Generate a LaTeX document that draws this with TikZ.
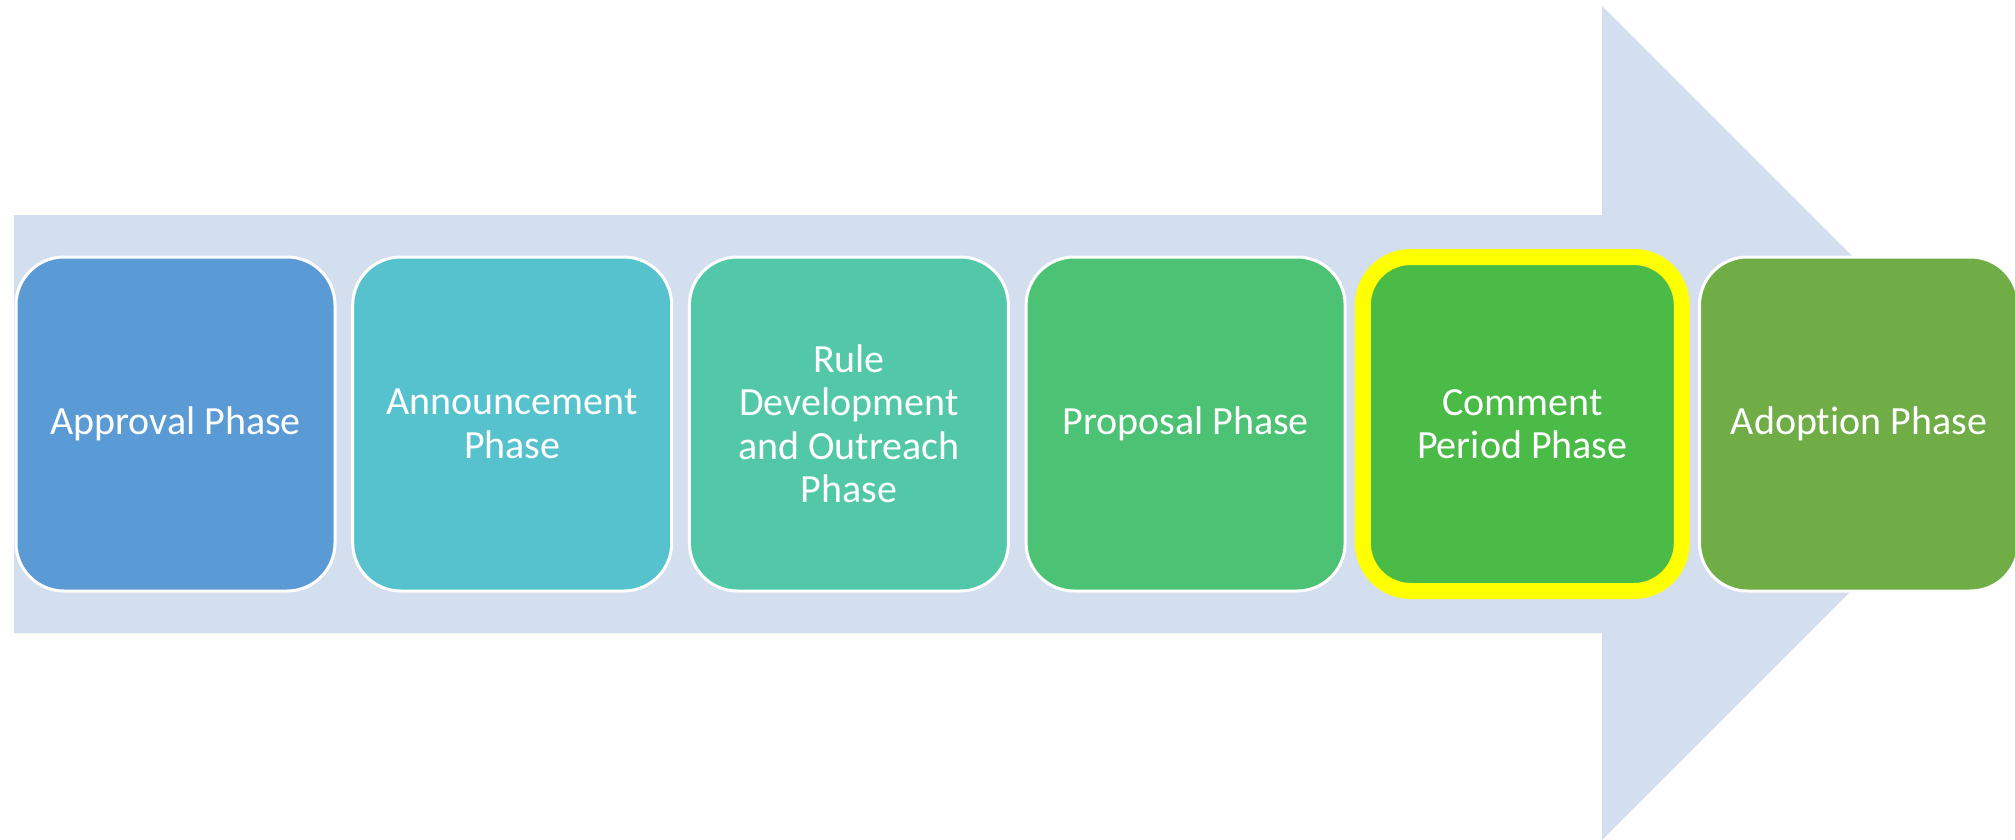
\documentclass[tikz,border=0pt]{standalone}
\usepackage{fontspec}
\setmainfont[Ligatures=NoCommon]{Carlito}
\definecolor{arrowbg}{HTML}{D3DEEF}
\definecolor{cA}{HTML}{5B9BD5}
\definecolor{cB}{HTML}{56C2CE}
\definecolor{cC}{HTML}{52C8A9}
\definecolor{cD}{HTML}{4CC274}
\definecolor{cE}{HTML}{4ABB47}
\definecolor{cF}{HTML}{70AD47}
\definecolor{hilite}{HTML}{FFFF00}
\tikzset{
  phasebox/.style={draw=white, line width=3pt, rounded corners=48pt,
    minimum width=319pt, minimum height=334pt, inner sep=0pt, outer sep=0pt,
    text=white, align=center,
    font=\fontsize{40}{43.5}\selectfont, anchor=north west},
  highlit/.style={draw=hilite, line width=16pt}
}
\begin{document}
\begin{tikzpicture}[x=1pt,y=-1pt]
\useasboundingbox (0,0) rectangle (2015,840);
\clip (0,0) rectangle (2015,840);
\fill[white] (0,0) rectangle (2015,840);
\fill[arrowbg] (14,215) -- (1602,215) -- (1602,6) -- (2019,423) -- (1602,840) -- (1602,633) -- (14,633) -- cycle;
\node[phasebox, fill=cA] (p1) at (16,257) {Approval Phase};
\node[phasebox, fill=cB] (p2) at (352.7,257) {Announcement\\Phase};
\node[phasebox, fill=cC] (p3) at (689.4,257) {Rule\\Development\\and Outreach\\Phase};
\node[phasebox, fill=cD] (p4) at (1026.1,257) {Proposal Phase};
\node[phasebox, fill=cE, highlit] (p5) at (1362.8,257) {Comment\\Period Phase};
\node[phasebox, fill=cF] (p6) at (1699.5,257) {Adoption Phase};
\end{tikzpicture}
\end{document}
